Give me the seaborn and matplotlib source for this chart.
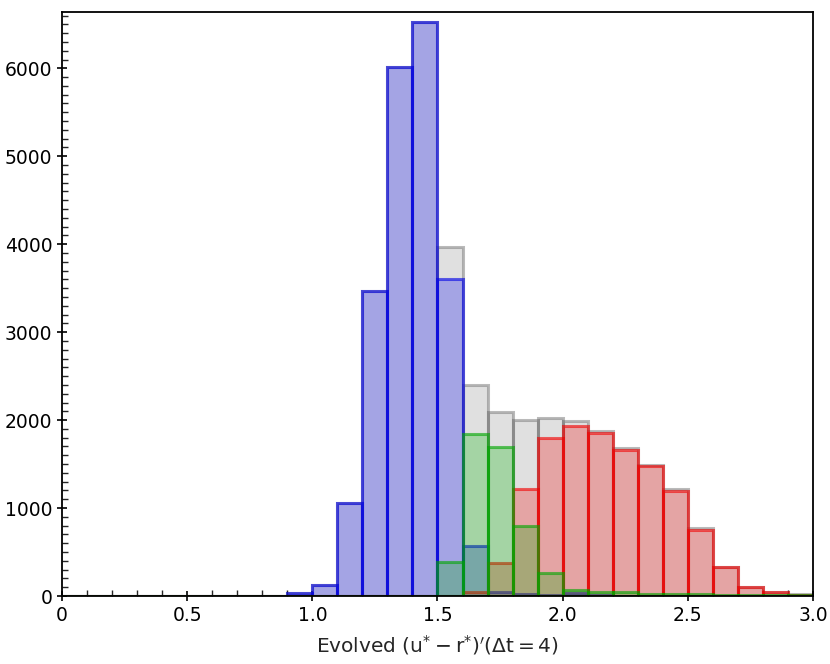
import numpy as np
import pandas as pd
import matplotlib
matplotlib.use("Agg")
import matplotlib.pyplot as plt
import seaborn as sns
from matplotlib.ticker import MultipleLocator

# bins of width 0.1 from 0 to 3.0; counts, starting at bin 0.9-1.0
bin_lefts = [0.9, 1.0, 1.1, 1.2, 1.3, 1.4, 1.5, 1.6, 1.7, 1.8, 1.9,
             2.0, 2.1, 2.2, 2.3, 2.4, 2.5, 2.6, 2.7, 2.8, 2.9]
total_counts = [30, 125, 1060, 3470, 6020, 6530, 3965, 2395, 2095, 2000, 2020,
                1990, 1875, 1685, 1495, 1215, 770, 335, 100, 42, 20]
blue_counts = [30, 125, 1060, 3470, 6020, 6530, 3610, 570, 45, 20, 12,
               30, 10, 5, 3, 2, 1, 0, 0, 0, 0]
red_counts = [0, 0, 0, 0, 0, 0, 0, 40, 380, 1213, 1800,
              1928, 1856, 1663, 1474, 1195, 750, 325, 98, 40, 10]
green_counts = [0, 0, 0, 0, 0, 0, 385, 1837, 1695, 795, 260,
                65, 45, 40, 25, 20, 18, 15, 15, 12, 15]

xtick_vals = [0, 0.5, 1.0, 1.5, 2.0, 2.5, 3.0]
xtick_labels = ["0", "0.5", "1.0", "1.5", "2.0", "2.5", "3.0"]
ytick_vals = [0, 1000, 2000, 3000, 4000, 5000, 6000]

sns.set_style("ticks")
plt.rcParams["font.family"] = ["DejaVu Sans"]
plt.rcParams["mathtext.fontset"] = "dejavusans"

df = pd.DataFrame({"x": np.round(np.array(bin_lefts) + 0.05, 3),
                   "total": total_counts, "blue": blue_counts,
                   "red": red_counts, "green": green_counts})

fig = plt.figure(figsize=(8.3, 6.64), dpi=100)
ax = fig.add_axes([0.0747, 0.1024, 0.9048, 0.8795])

# (column, face rgba, edge rgba) in drawing order
styles = [
    ("total", (0.5, 0.5, 0.5, 0.24), (0.4, 0.4, 0.4, 0.45)),
    ("blue", (0.0, 0.0, 0.94, 0.265), (0.0, 0.0, 0.9, 0.6)),
    ("red", (0.94, 0.0, 0.0, 0.265), (0.95, 0.0, 0.0, 0.6)),
    ("green", (0.0, 0.7, 0.0, 0.265), (0.0, 0.65, 0.0, 0.6)),
]
for col, face, edge in styles:
    n_before = len(ax.patches)
    sns.histplot(x=df["x"], weights=df[col], bins=30, binrange=(0, 3.0), ax=ax,
                 linewidth=2.2)
    for p in ax.patches[n_before:]:
        p.set_alpha(None)
        p.set_facecolor(face)
        p.set_edgecolor(edge)
        p.set_linewidth(2.2)

ax.set_xlim(0, 3.0)
ax.set_ylim(0, 6640)
ax.set_xticks(xtick_vals)
ax.set_xticklabels(xtick_labels)
ax.set_yticks(ytick_vals)
ax.xaxis.set_minor_locator(MultipleLocator(0.1))
ax.yaxis.set_minor_locator(MultipleLocator(100))
ax.tick_params(which="major", direction="inout", length=7, width=1.2,
               labelsize=13.5, colors="black")
ax.tick_params(which="minor", direction="in", length=4, width=1.0)
for sp in ax.spines.values():
    sp.set_linewidth(1.3)
    sp.set_color("black")
ax.set_ylabel("")
ax.set_xlabel(r"Evolved $(\mathsf{u}^{*}-\mathsf{r}^{*})^{\prime}(\Delta \mathsf{t}=4)$",
              fontsize=14.5, labelpad=6)

fig.savefig("out.png", dpi=100)
